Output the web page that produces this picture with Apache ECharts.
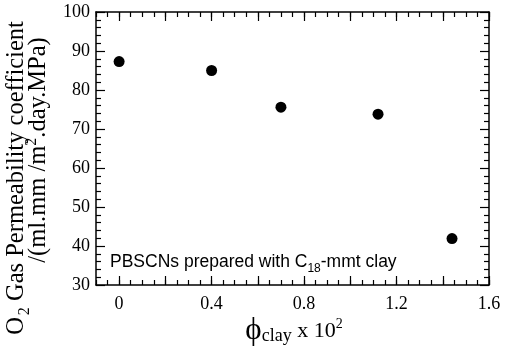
<!DOCTYPE html>
<html>
<head>
<meta charset="utf-8">
<script src="https://cdn.jsdelivr.net/npm/echarts@6/dist/echarts.min.js"></script>
<style>
  html, body { margin: 0; padding: 0; background: #fff; }
  #chart { width: 507px; height: 347px; }
</style>
</head>
<body>
<div id="chart"></div>
<script>
// Clay volume fraction (x 10^2) and O2 gas permeability coefficient
const clayFraction = [0, 0.4, 0.7, 1.12, 1.44];
const permeability = [87.3, 85.0, 75.6, 73.8, 41.9];

// Axis ticks and labels
const xMajorTicks = [0, 0.2, 0.4, 0.6, 0.8, 1.0, 1.2, 1.4, 1.6];
const xTickLabels = [0, 0.4, 0.8, 1.2, 1.6];
const yTickLabels = [30, 40, 50, 60, 70, 80, 90, 100];

const serif = 'Liberation Serif';
const black = '#000';

const chart = echarts.init(document.getElementById('chart'), null, { renderer: 'canvas' });

const grid = { left: 96, right: 18, top: 12, bottom: 62, containLabel: false };

function xMajor(position, withLabels) {
  return {
    type: 'value', position: position, min: -0.1, max: 1.6,
    axisLine: { show: true, onZero: false, lineStyle: { color: black, width: 1.5 } },
    axisTick: { show: true, inside: true, length: 9, customValues: xMajorTicks,
                lineStyle: { color: black, width: 1.2 } },
    axisLabel: withLabels ? {
      show: true, customValues: xTickLabels, margin: 10,
      color: black, fontFamily: serif, fontSize: 18,
      formatter: v => String(Math.round(v * 10) / 10)
    } : { show: false },
    splitLine: { show: false }
  };
}
function xMinor(position) {
  return {
    type: 'value', position: position, min: -0.1, max: 1.6, interval: 0.05,
    axisLine: { show: false, onZero: false },
    axisTick: { show: true, inside: true, length: 5, lineStyle: { color: black, width: 1.2 } },
    axisLabel: { show: false },
    splitLine: { show: false }
  };
}
function yAxis(position, withLabels) {
  return {
    type: 'value', position: position, min: 30, max: 100, interval: 10,
    axisLine: { show: true, onZero: false, lineStyle: { color: black, width: 1.5 } },
    axisTick: { show: true, inside: true, length: 9, lineStyle: { color: black, width: 1.2 } },
    minorTick: { show: true, splitNumber: 5, length: 5, lineStyle: { color: black, width: 1.2 } },
    axisLabel: withLabels ? {
      show: true, margin: 6, color: black, fontFamily: serif, fontSize: 18,
      customValues: yTickLabels
    } : { show: false },
    splitLine: { show: false },
    minorSplitLine: { show: false }
  };
}

const titleFont = { fontFamily: serif, fontSize: 24.5, color: black };

chart.setOption({
  animation: false,
  backgroundColor: '#fff',
  grid: grid,
  xAxis: [xMajor('bottom', true), xMinor('bottom'), xMajor('top', false), xMinor('top')],
  yAxis: [yAxis('left', true), yAxis('right', false)],
  series: [{
    type: 'scatter',
    xAxisIndex: 0, yAxisIndex: 0,
    symbol: 'circle', symbolSize: 11,
    itemStyle: { color: black, opacity: 1 },
    data: clayFraction.map((x, i) => [x, permeability[i]])
  }],
  graphic: [
    {
      type: 'text', x: 17, y: 178, rotation: Math.PI / 2,
      style: {
        text: '{n|O}{sub|2}{n| Gas Permeability coefficient}',
        align: 'center', verticalAlign: 'middle',
        rich: {
          n: titleFont,
          sub: { fontFamily: serif, fontSize: 16, color: black, padding: [16, 0, 0, 2] }
        }
      }
    },
    {
      type: 'text', x: 39, y: 150, rotation: Math.PI / 2,
      style: {
        text: '{n|/(ml.mm /m}{sup|2}{n|.day.MPa)}',
        align: 'center', verticalAlign: 'middle',
        rich: {
          n: titleFont,
          sup: { fontFamily: serif, fontSize: 16, color: black, padding: [0, 0, 14, 0] }
        }
      }
    },
    {
      type: 'text', x: 294, y: 331,
      style: {
        text: '{phi|\u03D5}{sub|clay}{n| x 10}{sup|2}',
        align: 'center', verticalAlign: 'middle',
        rich: {
          phi: { fontFamily: serif, fontSize: 31, color: black },
          sub: { fontFamily: serif, fontSize: 18, color: black, padding: [10, 0, 0, 0] },
          n: { fontFamily: serif, fontSize: 22, color: black },
          sup: { fontFamily: serif, fontSize: 14, color: black, padding: [0, 0, 13, 0] }
        }
      }
    },
    {
      type: 'text', x: 110, y: 262,
      style: {
        text: '{n|PBSCNs prepared with C}{sub|18}{n|-mmt clay}',
        align: 'left', verticalAlign: 'middle',
        rich: {
          n: { fontFamily: 'Liberation Sans', fontSize: 17.5, color: black },
          sub: { fontFamily: 'Liberation Sans', fontSize: 12, color: black, padding: [13, 0, 0, 0] }
        }
      }
    }
  ]
});
</script>
</body>
</html>
